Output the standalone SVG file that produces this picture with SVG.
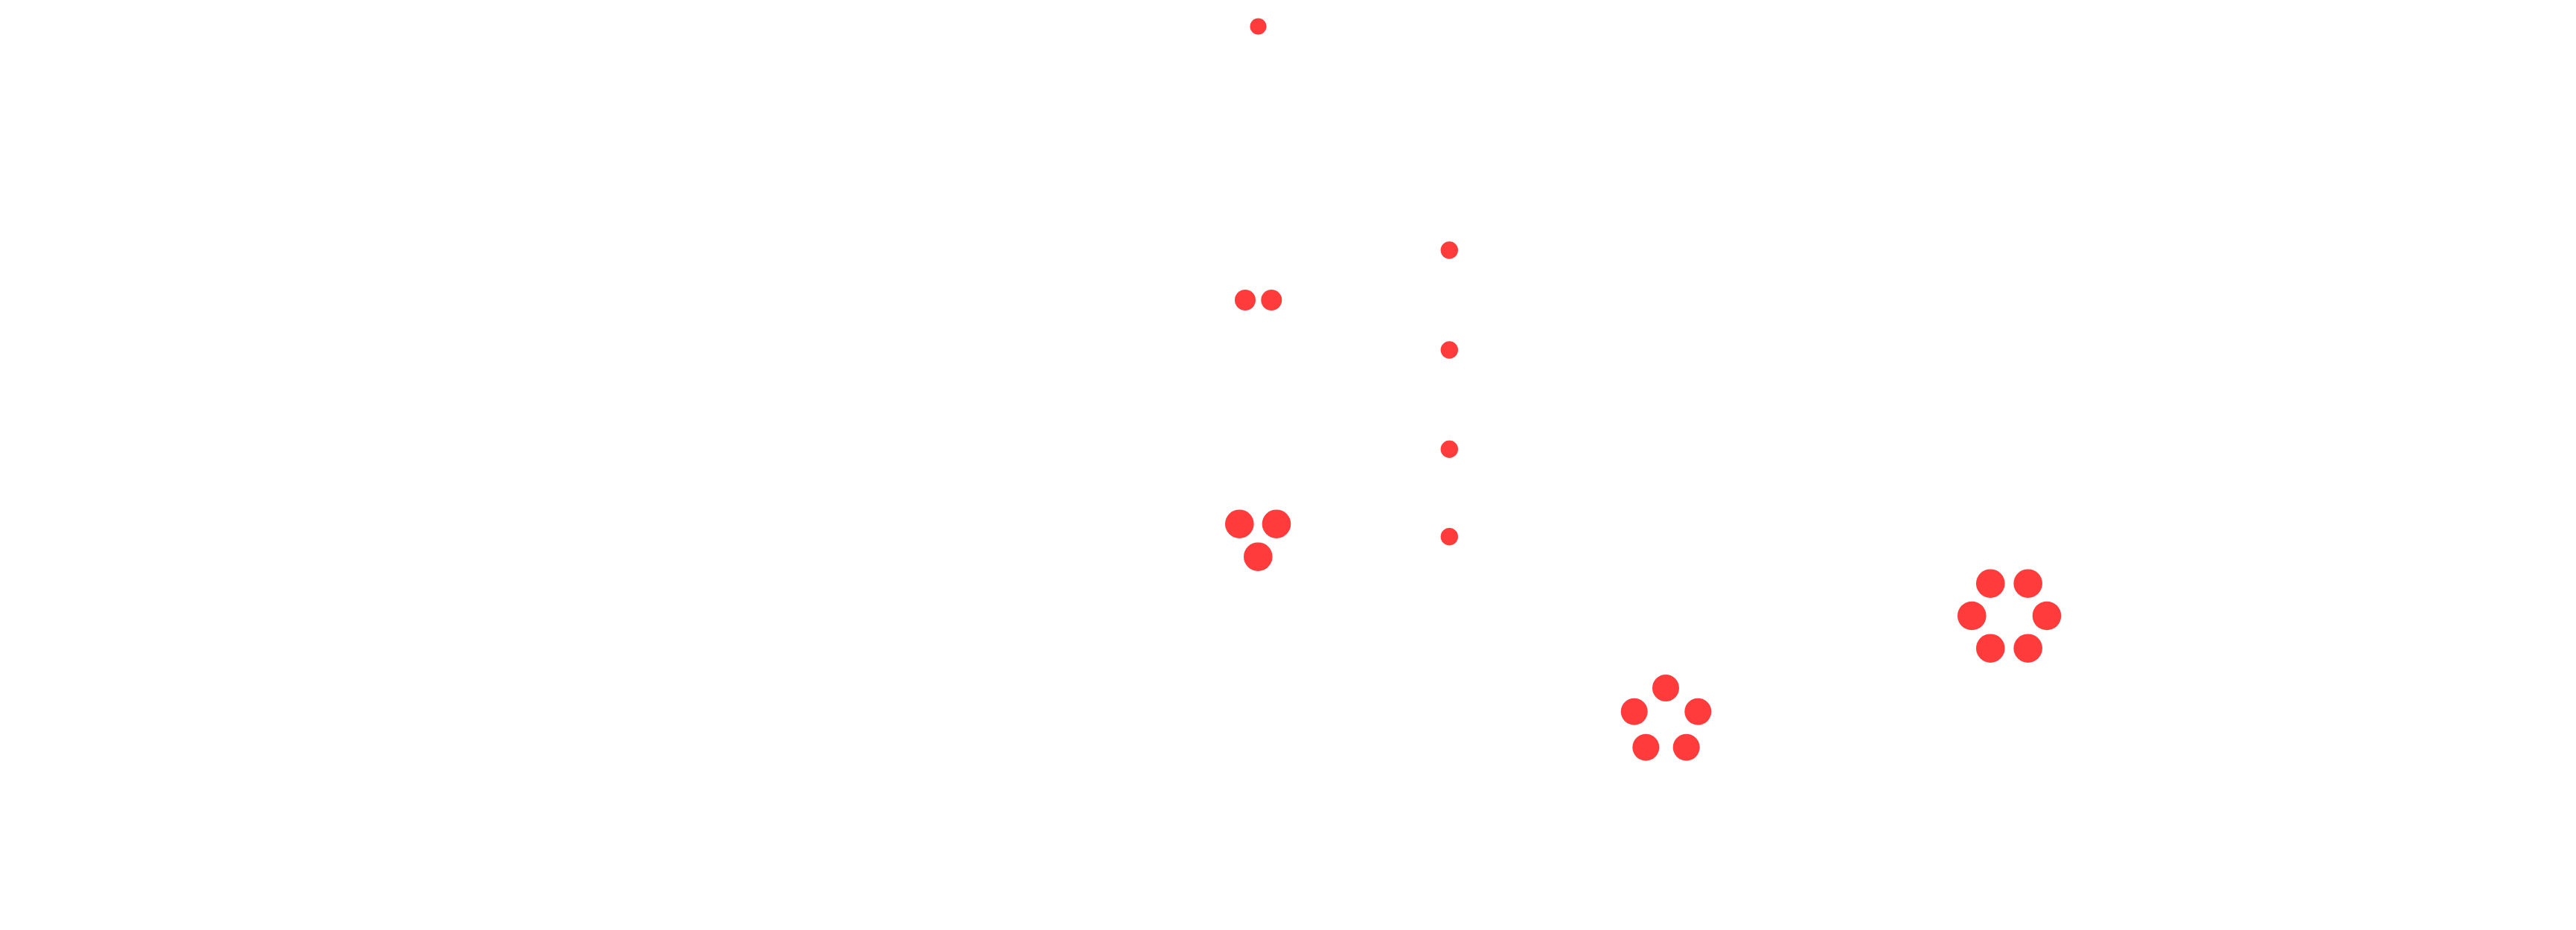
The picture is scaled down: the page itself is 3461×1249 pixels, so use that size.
<svg xmlns="http://www.w3.org/2000/svg" width="3461" height="1249" viewBox="0 0 3461 1249">
<style>.d{fill:#ff3b3b}</style>
<rect width="3461" height="1249" fill="#ffffff"/>
<g id="g1"><circle class="d" cx="1690.5" cy="35.5" r="11"/></g>
<g id="g2"><circle class="d" cx="1673" cy="403" r="14"/><circle class="d" cx="1708.3" cy="403" r="14"/></g>
<g id="g3"><circle class="d" cx="1665.3" cy="703.7" r="19.3"/><circle class="d" cx="1715" cy="703.7" r="19.3"/><circle class="d" cx="1690.3" cy="747.7" r="19.3"/></g>
<g id="g4"><circle class="d" cx="1947.3" cy="336" r="11.7"/><circle class="d" cx="1947.3" cy="470" r="11.7"/><circle class="d" cx="1947.3" cy="603.3" r="11.7"/><circle class="d" cx="1947.3" cy="720.7" r="11.7"/></g>
<g id="g5"><circle class="d" cx="2238" cy="924" r="18"/><circle class="d" cx="2195.7" cy="955.7" r="18"/><circle class="d" cx="2281.3" cy="955.7" r="18"/><circle class="d" cx="2211.3" cy="1003.7" r="18"/><circle class="d" cx="2265.7" cy="1003.7" r="18"/></g>
<g id="g6"><circle class="d" cx="2674.3" cy="783.7" r="19.3"/><circle class="d" cx="2724.7" cy="783.7" r="19.3"/><circle class="d" cx="2649.3" cy="827" r="19.3"/><circle class="d" cx="2750" cy="827" r="19.3"/><circle class="d" cx="2674.3" cy="870.7" r="19.3"/><circle class="d" cx="2724.7" cy="870.7" r="19.3"/></g>
<g id="connectors"></g>
</svg>
